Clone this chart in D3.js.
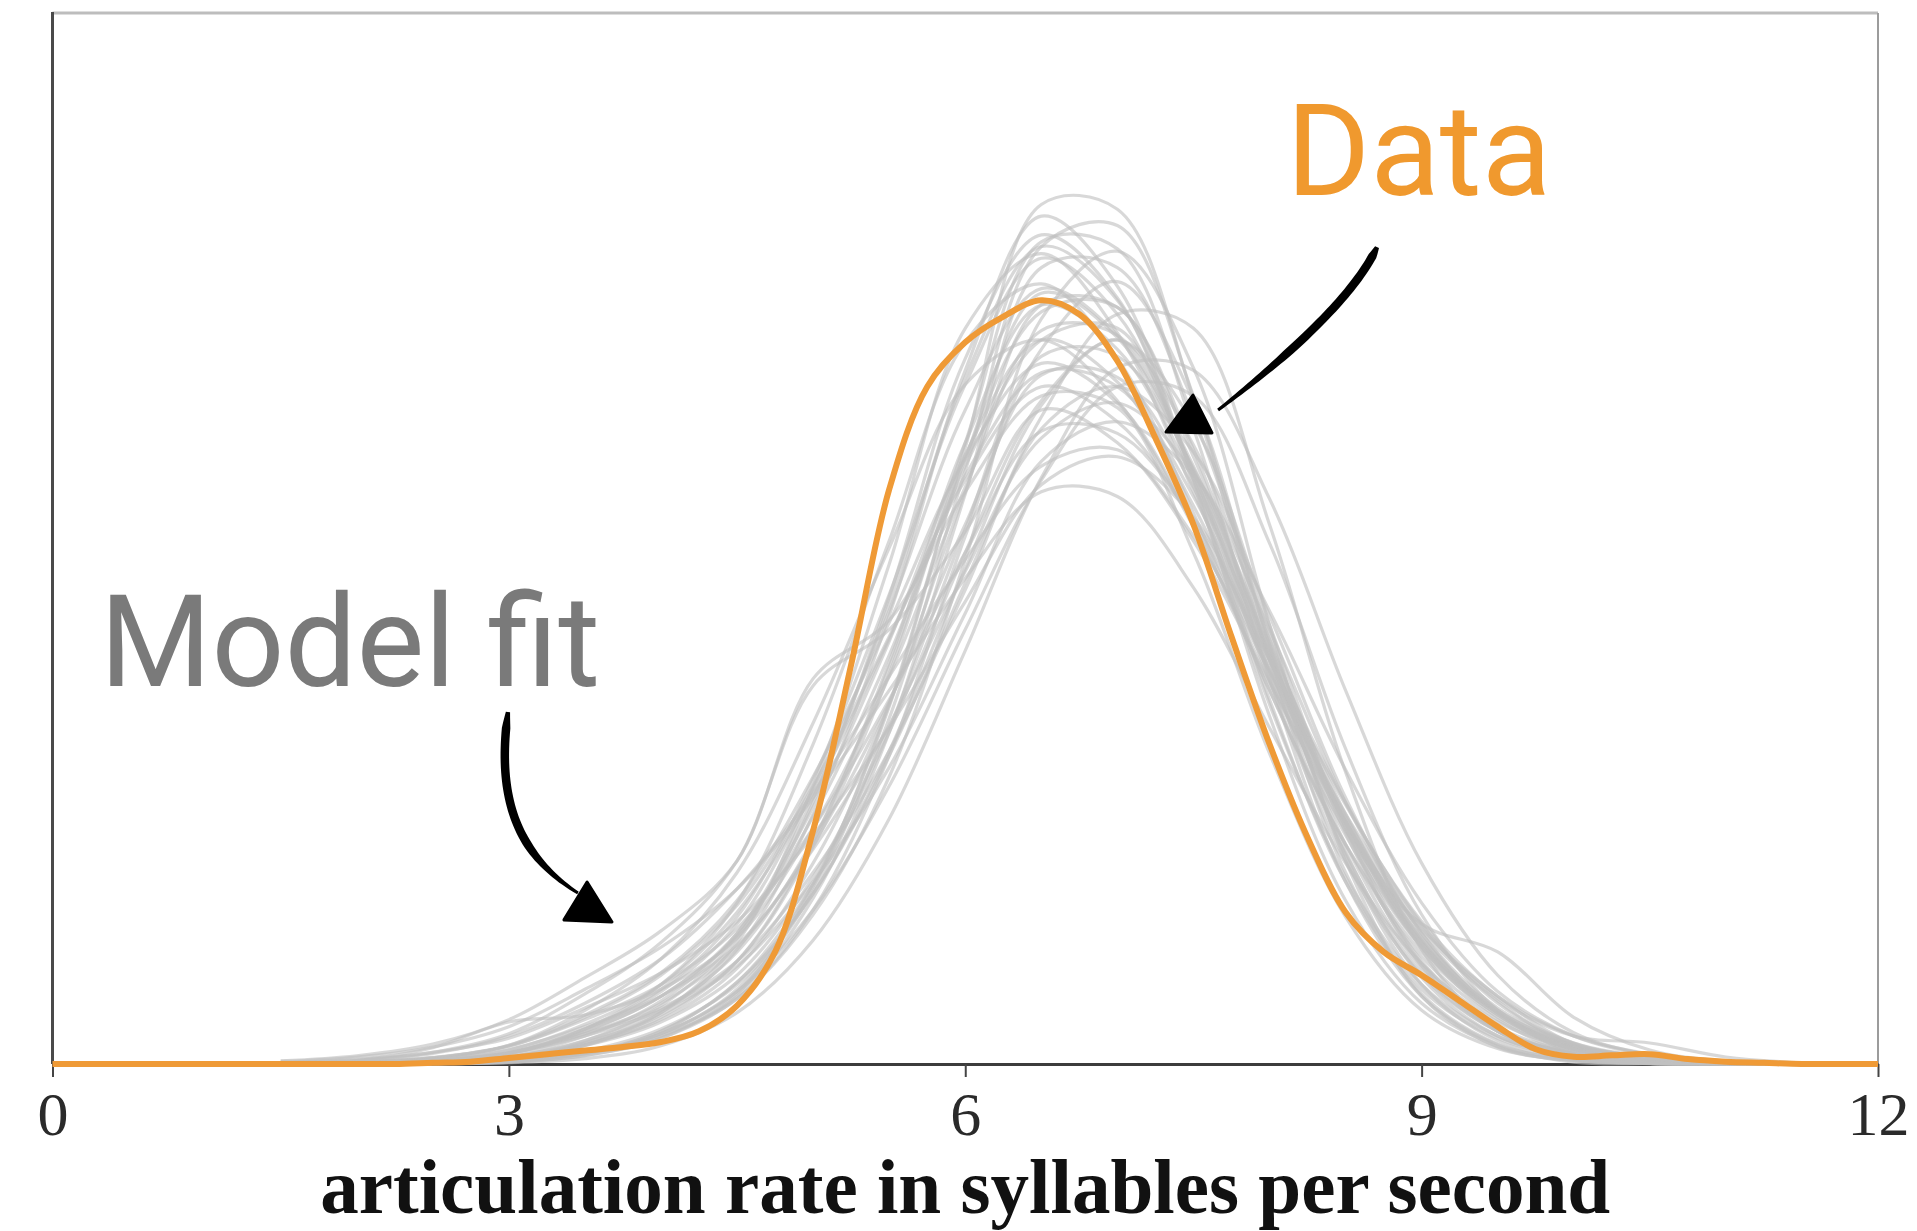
<!DOCTYPE html>
<html>
<head>
<meta charset="utf-8">
<script src="https://cdn.jsdelivr.net/npm/d3@7"></script>
<style>
  html, body { margin: 0; padding: 0; background: #fff; }
  svg { display: block; }
</style>
</head>
<body>
<main></main>
<script>
const width = 1917;
const height = 1231;
const plot = {left: 52.5, right: 1878, top: 13, bottom: 1064};

// x ticks and labels
const xTicks = [0, 3, 6, 9, 12];
const xLabel = 'articulation rate in syllables per second';
const dataLabel = 'Data';
const modelLabel = 'Model fit';

const dataRate = [0, 0.25, 0.5, 0.75, 1, 1.25, 1.5, 1.75, 2, 2.25,
                  2.5, 2.75, 3, 3.25, 3.5, 3.75, 4, 4.25, 4.5, 4.75,
                  5, 5.25, 5.5, 5.75, 6, 6.25, 6.5, 6.75, 7, 7.25,
                  7.5, 7.75, 8, 8.25, 8.5, 8.75, 9, 9.25, 9.5, 9.75,
                  10, 10.25, 10.5, 10.75, 11, 11.25, 11.5, 11.75, 12];
const dataDensity = [0, 0, 0, 0, 0, 0, 0, 0, 0, 0,
                     0.05, 0.1, 0.26, 0.42, 0.58, 0.73, 0.94, 1.4, 2.5, 4.8,
                     10.0, 17.1, 24.6, 29.0, 30.9, 32.0, 32.7, 32.1, 30.1, 26.8,
                     23.1, 18.3, 13.7, 9.7, 6.5, 4.8, 3.8, 2.7, 1.6, 0.63,
                     0.31, 0.37, 0.42, 0.21, 0.1, 0.05, 0, 0, 0];

// model fit draws (grey lines), same units, on this grid
const rateGrid = [1.5, 2, 2.5, 3, 3.5, 4, 4.5, 5, 5.5, 6, 6.5, 7, 7.5, 8, 8.5, 9, 9.5, 10, 10.5, 11, 11.5];
const fit01 = [0, 0.03, 0.13, 0.47, 1.5, 3.1, 6.0, 11.8, 19.4, 28.0, 33.2, 31.2, 25.6, 17.7, 10.4, 5.2, 2.2, 0.47, 0.13, 0.03, 0];
const fit02 = [0, 0.01, 0.06, 0.25, 0.85, 1.9, 4.1, 8.6, 15.4, 24.5, 32.5, 32.4, 26.3, 17.4, 9.4, 4.1, 1.5, 0.42, 0.1, 0.02, 0];
const fit03 = [0, 0, 0.02, 0.11, 0.48, 1.3, 3.2, 7.7, 15.3, 26.4, 36.8, 36.6, 28.5, 17.3, 8.2, 3.0, 0.86, 0.19, 0.03, 0, 0];
const fit04 = [0, 0.01, 0.05, 0.23, 0.88, 2.2, 4.9, 10.7, 19.2, 29.7, 36.3, 33.3, 25.0, 14.9, 7.0, 2.6, 0.76, 0.08, 0.01, 0, 0];
const fit05 = [0, 0.01, 0.03, 0.14, 0.49, 1.2, 2.8, 6.4, 12.3, 21.6, 31.9, 34.8, 29.8, 18.8, 8.7, 2.9, 0.73, 0.14, 0.02, 0, 0];
const fit06 = [0, 0, 0.04, 0.16, 0.51, 1.4, 3.5, 7.3, 13.2, 20.6, 27.7, 32.1, 31.5, 23.1, 12.5, 4.9, 1.4, 0.31, 0.05, 0, 0];
const fit07 = [0.11, 0.3, 0.73, 1.6, 3.2, 5.0, 7.5, 11.4, 16.0, 20.8, 24.5, 24.3, 20.4, 14.4, 8.6, 4.3, 1.8, 0.63, 0.19, 0.05, 0.01];
const fit08 = [0.07, 0.2, 0.5, 1.1, 2.4, 3.9, 6.1, 9.8, 14.4, 19.8, 24.8, 26.0, 23.4, 17.2, 10.3, 5.0, 2.0, 0.63, 0.16, 0.04, 0];
const fit09 = [0, 0.02, 0.1, 0.43, 1.5, 3.4, 6.9, 13.7, 22.4, 30.9, 33.4, 30.2, 23.6, 16.0, 9.4, 4.8, 2.1, 0.53, 0.16, 0.04, 0];
const fit10 = [0.02, 0.08, 0.26, 0.8, 2.1, 3.9, 7.0, 12.3, 18.9, 25.9, 30.0, 28.3, 23.1, 16.0, 9.4, 4.6, 1.9, 0.43, 0.12, 0.03, 0];
const fit11 = [0, 0.01, 0.03, 0.12, 0.44, 1.4, 3.5, 7.7, 14.2, 21.9, 28.4, 31.0, 27.4, 18.8, 10.1, 4.2, 1.4, 0.34, 0.07, 0.01, 0];
const fit12 = [0, 0.04, 0.14, 0.47, 1.3, 2.6, 5.0, 9.4, 15.5, 23.1, 29.5, 29.4, 24.7, 17.4, 10.4, 5.2, 2.2, 0.77, 0.23, 0.06, 0.01];
const fit13 = [0.05, 0.16, 0.5, 1.3, 3.0, 5.2, 8.7, 16.2, 18.6, 22.8, 28.0, 26.6, 22.4, 16.3, 10.3, 5.7, 2.7, 0.75, 0.25, 0.07, 0.02];
const fit14 = [0.01, 0.05, 0.17, 0.49, 1.3, 2.4, 4.4, 8.2, 13.4, 20.3, 27.2, 29.0, 26.2, 19.2, 11.4, 5.6, 2.2, 0.7, 0.18, 0.04, 0.01];
const fit15 = [0, 0, 0.02, 0.1, 0.44, 1.2, 2.9, 7.1, 14.2, 24.4, 34.1, 34.1, 27.7, 18.4, 9.9, 4.3, 1.5, 0.44, 0.1, 0.02, 0];
const fit16 = [0.01, 0.06, 0.24, 0.8, 2.3, 4.5, 8.2, 14.6, 22.1, 29.1, 31.0, 28.4, 23.0, 16.4, 10.4, 5.8, 2.9, 0.87, 0.31, 0.1, 0.03];
const fit17 = [0, 0.01, 0.07, 0.27, 0.92, 2.1, 4.4, 9.3, 16.7, 26.6, 35.2, 34.9, 27.2, 16.5, 7.8, 2.9, 0.82, 0.18, 0.03, 0, 0];
const fit18 = [0.01, 0.03, 0.12, 0.44, 1.4, 2.9, 5.6, 11.0, 18.1, 26.1, 31.0, 29.2, 23.9, 16.9, 10.0, 6.0, 4.8, 2.0, 0.6, 0.12, 0.03];
const fit19 = [0.02, 0.09, 0.28, 0.76, 1.9, 3.4, 5.8, 10.1, 15.6, 21.9, 27.1, 27.0, 23.3, 17.3, 11.1, 6.1, 2.9, 1.2, 0.43, 0.13, 0.04];
const fit20 = [0, 0, 0.04, 0.14, 0.46, 1.3, 3.1, 6.6, 11.9, 18.6, 25.0, 29.0, 28.6, 22.3, 13.5, 6.4, 2.3, 0.67, 0.15, 0.03, 0];
const fit21 = [0.01, 0.03, 0.13, 0.49, 1.5, 3.2, 6.3, 12.2, 20.1, 29.1, 34.5, 32.1, 25.3, 16.4, 8.7, 3.8, 1.4, 0.45, 0.05, 0.01, 0];
const fit22 = [0.04, 0.15, 0.7, 1.8, 2.1, 3.2, 5.4, 10.1, 16.6, 24.7, 31.4, 31.2, 25.4, 16.8, 9.0, 3.9, 1.4, 0.41, 0.1, 0.02, 0];
const fit23 = [0, 0, 0.01, 0.07, 0.37, 1.1, 3.0, 7.6, 15.4, 25.9, 33.0, 31.1, 25.4, 17.6, 10.3, 5.1, 2.2, 0.7, 0.13, 0.03, 0];
const fit24 = [0.02, 0.07, 0.26, 0.77, 2.0, 3.8, 6.8, 11.9, 18.3, 25.0, 29.0, 27.5, 23.2, 16.9, 10.7, 5.9, 2.8, 1.2, 0.9, 0.3, 0.05];
const fit25 = [0, 0.01, 0.06, 0.24, 0.79, 1.8, 3.8, 8.0, 14.4, 22.9, 30.3, 30.3, 25.5, 18.0, 10.7, 5.3, 2.2, 0.79, 0.24, 0.06, 0.01];
const fit26 = [0, 0, 0.03, 0.18, 0.8, 2.2, 5.2, 11.9, 21.4, 31.5, 34.7, 31.3, 24.5, 16.7, 9.8, 5.0, 2.2, 0.7, 0.17, 0.05, 0.01];
const fit27 = [0.01, 0.05, 0.16, 0.46, 1.2, 2.3, 4.2, 7.8, 12.7, 19.3, 25.8, 27.5, 25.2, 19.4, 12.6, 6.9, 3.1, 1.2, 0.39, 0.11, 0.02];
const fit28 = [0.13, 0.35, 0.85, 1.9, 3.7, 5.7, 8.7, 16.5, 19.0, 24.5, 28.6, 28.1, 21.9, 13.3, 6.3, 2.3, 0.66, 0.15, 0.03, 0, 0];
const fit29 = [0, 0.01, 0.05, 0.2, 0.79, 2.0, 4.4, 9.5, 17.2, 26.6, 32.5, 30.6, 25.0, 17.3, 10.1, 5.0, 2.1, 0.6, 0.13, 0.03, 0];
const fit30 = [0, 0, 0.01, 0.06, 0.23, 0.78, 2.2, 5.3, 10.5, 17.7, 25.1, 29.8, 29.7, 24.2, 16.0, 8.6, 3.8, 1.34, 0.39, 0.09, 0.02];
const fit31 = [0, 0.04, 0.14, 0.47, 1.4, 2.9, 5.5, 10.6, 17.5, 25.6, 31.0, 31.5, 25.2, 17.6, 10.4, 5.2, 2.2, 0.62, 0.18, 0.05, 0];
const fit32 = [0, 0, 0.02, 0.1, 0.46, 1.3, 3.1, 7.4, 14.8, 25.4, 35.0, 35.9, 28.6, 17.9, 9.1, 3.7, 1.2, 0.32, 0.07, 0.01, 0];
const fit33 = [0.02, 0.07, 0.22, 0.62, 1.6, 2.9, 5.1, 9.2, 14.5, 21.1, 26.8, 28.3, 25.3, 18.6, 11.2, 5.6, 2.4, 0.9, 0.3, 0.08, 0.02];
const fit34 = [0, 0.02, 0.09, 0.35, 1.2, 2.7, 5.6, 11.4, 19.7, 29.4, 35.0, 32.7, 25.1, 15.6, 7.8, 3.2, 1.1, 0.3, 0.06, 0.01, 0];
const fit35 = [0, 0.01, 0.04, 0.16, 0.55, 1.5, 3.4, 7.3, 13.4, 21.2, 28.2, 31.0, 26.5, 18.2, 10.2, 4.4, 1.6, 0.5, 0.12, 0.03, 0];
const fit36 = [0.01, 0.05, 0.18, 0.6, 1.7, 3.4, 6.5, 11.6, 18.2, 25.2, 29.6, 29.0, 24.3, 17.3, 10.6, 5.4, 2.3, 0.8, 0.24, 0.06, 0.01];
const fit37 = [0, 0.02, 0.08, 0.3, 1.0, 2.5, 5.4, 11.2, 20.0, 30.2, 35.5, 32.8, 24.8, 15.4, 8.0, 3.4, 1.2, 0.34, 0.08, 0.01, 0];
const fit38 = [0, 0, 0.02, 0.09, 0.36, 1.1, 2.8, 6.6, 13.2, 22.6, 30.6, 33.5, 28.4, 18.0, 8.9, 3.4, 1.0, 0.23, 0.04, 0, 0];
const fit39 = [0.04, 0.15, 0.45, 1.2, 2.6, 4.5, 7.5, 11.6, 16.6, 21.6, 25.6, 26.3, 22.6, 16.8, 10.4, 5.4, 2.3, 0.85, 0.27, 0.07, 0.01];
const fit40 = [0, 0.02, 0.08, 0.3, 1.0, 2.3, 4.8, 9.6, 17.0, 26.0, 32.2, 32.4, 26.0, 17.8, 11.2, 6.0, 2.6, 0.9, 0.25, 0.05, 0];

const modelFits = [fit01, fit02, fit03, fit04, fit05, fit06, fit07, fit08, fit09, fit10,
                   fit11, fit12, fit13, fit14, fit15, fit16, fit17, fit18, fit19, fit20,
                   fit21, fit22, fit23, fit24, fit25, fit26, fit27, fit28, fit29, fit30,
                   fit31, fit32, fit33, fit34, fit35, fit36, fit37, fit38, fit39, fit40];

// hand drawn arrows, in data units (rate, density): bezier stroke + triangle head
const dataArrowCurve = [[8.707, 34.98], [8.562, 32.93], [8.135, 30.36], [7.662, 28.00]];
const dataArrowHead = [[7.497, 28.64], [7.320, 27.06], [7.622, 27.02]];
const modelArrowCurve = [[2.994, 15.07], [2.915, 11.30], [3.060, 8.95], [3.454, 7.32]];
const modelArrowHead = [[3.514, 7.79], [3.362, 6.17], [3.678, 6.08]];
const dataLabelAt = [8.11, 37.21];
const modelLabelAt = [0.31, 16.18];

const svg = d3.select('main')
              .append('svg')
              .attr('width', width)
              .attr('height', height);

const x = d3.scaleLinear().domain([0, 12]).range([plot.left, plot.right]);
const y = d3.scaleLinear().domain([0, 45]).range([plot.bottom, plot.top]);

// frame: dark left axis, light top/right border
svg.append('line')
   .attr('x1', plot.left).attr('x2', plot.right)
   .attr('y1', plot.top).attr('y2', plot.top)
   .attr('stroke', '#bdbdbd').attr('stroke-width', 3);
svg.append('line')
   .attr('x1', plot.right).attr('x2', plot.right)
   .attr('y1', plot.top).attr('y2', plot.bottom)
   .attr('stroke', '#9c9c9c').attr('stroke-width', 2);
svg.append('line')
   .attr('x1', plot.left).attr('x2', plot.left)
   .attr('y1', plot.top - 1).attr('y2', plot.bottom)
   .attr('stroke', '#4a4a4a').attr('stroke-width', 3);

const xAxis = svg.append('g')
                 .attr('transform', 'translate(0,' + y(0) + ')')
                 .call(d3.axisBottom(x).tickValues(xTicks).tickSize(13).tickPadding(14).tickSizeOuter(0));
xAxis.select('.domain').attr('stroke', '#3c3c3c').attr('stroke-width', 3);
xAxis.selectAll('.tick line').attr('stroke', '#444').attr('stroke-width', 2);
xAxis.selectAll('.tick text')
     .attr('font-family', '"Liberation Serif", serif')
     .attr('font-size', 62)
     .attr('fill', '#2a2a2a');

svg.append('text')
   .attr('x', x(6))
   .attr('y', 1213)
   .attr('text-anchor', 'middle')
   .attr('font-family', '"Liberation Serif", serif')
   .attr('font-weight', 'bold')
   .attr('font-size', 78)
   .attr('textLength', 1290)
   .attr('lengthAdjust', 'spacingAndGlyphs')
   .attr('fill', '#111')
   .text(xLabel);

// grey model fit lines, semi transparent so the overlaps build up the band
const fitLine = d3.line()
                  .x((d, i) => x(rateGrid[i]))
                  .y((d) => y(d))
                  .curve(d3.curveCatmullRom.alpha(0.5));

svg.append('g')
   .selectAll('path')
   .data(modelFits)
   .join('path')
   .attr('d', fitLine)
   .attr('fill', 'none')
   .attr('stroke', '#c0c0c0')
   .attr('stroke-opacity', 0.62)
   .attr('stroke-width', 3.2);

// orange observed line
const dataLine = d3.line()
                   .x((d, i) => x(dataRate[i]))
                   .y((d) => y(d))
                   .curve(d3.curveCatmullRom.alpha(0.5));

svg.append('path')
   .datum(dataDensity)
   .attr('d', dataLine)
   .attr('fill', 'none')
   .attr('stroke', '#ef9a36')
   .attr('stroke-width', 6)
   .attr('stroke-linejoin', 'round');

// tapered brush-like stroke along a cubic bezier
const taperedStroke = (ctrl, wMax, wEnd) => {
    const p = ctrl.map((d) => [x(d[0]), y(d[1])]);
    const left = [];
    const right = [];
    const n = 48;
    for (let i = 0; i <= n; i++) {
        const t = i / n;
        const u = 1 - t;
        const px = u*u*u*p[0][0] + 3*u*u*t*p[1][0] + 3*u*t*t*p[2][0] + t*t*t*p[3][0];
        const py = u*u*u*p[0][1] + 3*u*u*t*p[1][1] + 3*u*t*t*p[2][1] + t*t*t*p[3][1];
        const dx = 3*u*u*(p[1][0] - p[0][0]) + 6*u*t*(p[2][0] - p[1][0]) + 3*t*t*(p[3][0] - p[2][0]);
        const dy = 3*u*u*(p[1][1] - p[0][1]) + 6*u*t*(p[2][1] - p[1][1]) + 3*t*t*(p[3][1] - p[2][1]);
        const len = Math.hypot(dx, dy) || 1;
        let w;
        if (t < 0.06) w = wMax * (0.5 + 0.5 * t / 0.06);
        else if (t < 0.65) w = wMax;
        else w = wMax + (wEnd - wMax) * (t - 0.65) / 0.35;
        left.push([px - dy / len * w / 2, py + dx / len * w / 2]);
        right.push([px + dy / len * w / 2, py - dx / len * w / 2]);
    }
    return d3.line().curve(d3.curveLinearClosed)(left.concat(right.reverse()));
};

const drawArrow = (curve, head, wMax, wEnd) => {
    svg.append('path')
       .attr('d', taperedStroke(curve, wMax, wEnd))
       .attr('fill', '#000');
    svg.append('path')
       .attr('d', d3.line().x((d) => x(d[0])).y((d) => y(d[1])).curve(d3.curveLinearClosed)(head))
       .attr('fill', '#000')
       .attr('stroke', '#000')
       .attr('stroke-width', 3)
       .attr('stroke-linejoin', 'round');
};

drawArrow(dataArrowCurve, dataArrowHead, 8.5, 3);
drawArrow(modelArrowCurve, modelArrowHead, 8.5, 3);

svg.append('text')
   .attr('x', x(dataLabelAt[0]))
   .attr('y', y(dataLabelAt[1]))
   .attr('font-family', 'Roboto, sans-serif')
   .attr('font-size', 128)
   .attr('fill', '#f0992e')
   .text(dataLabel);

svg.append('text')
   .attr('x', x(modelLabelAt[0]))
   .attr('y', y(modelLabelAt[1]))
   .attr('font-family', 'Roboto, sans-serif')
   .attr('font-size', 128)
   .attr('fill', '#7a7a7a')
   .text(modelLabel);
</script>
</body>
</html>
